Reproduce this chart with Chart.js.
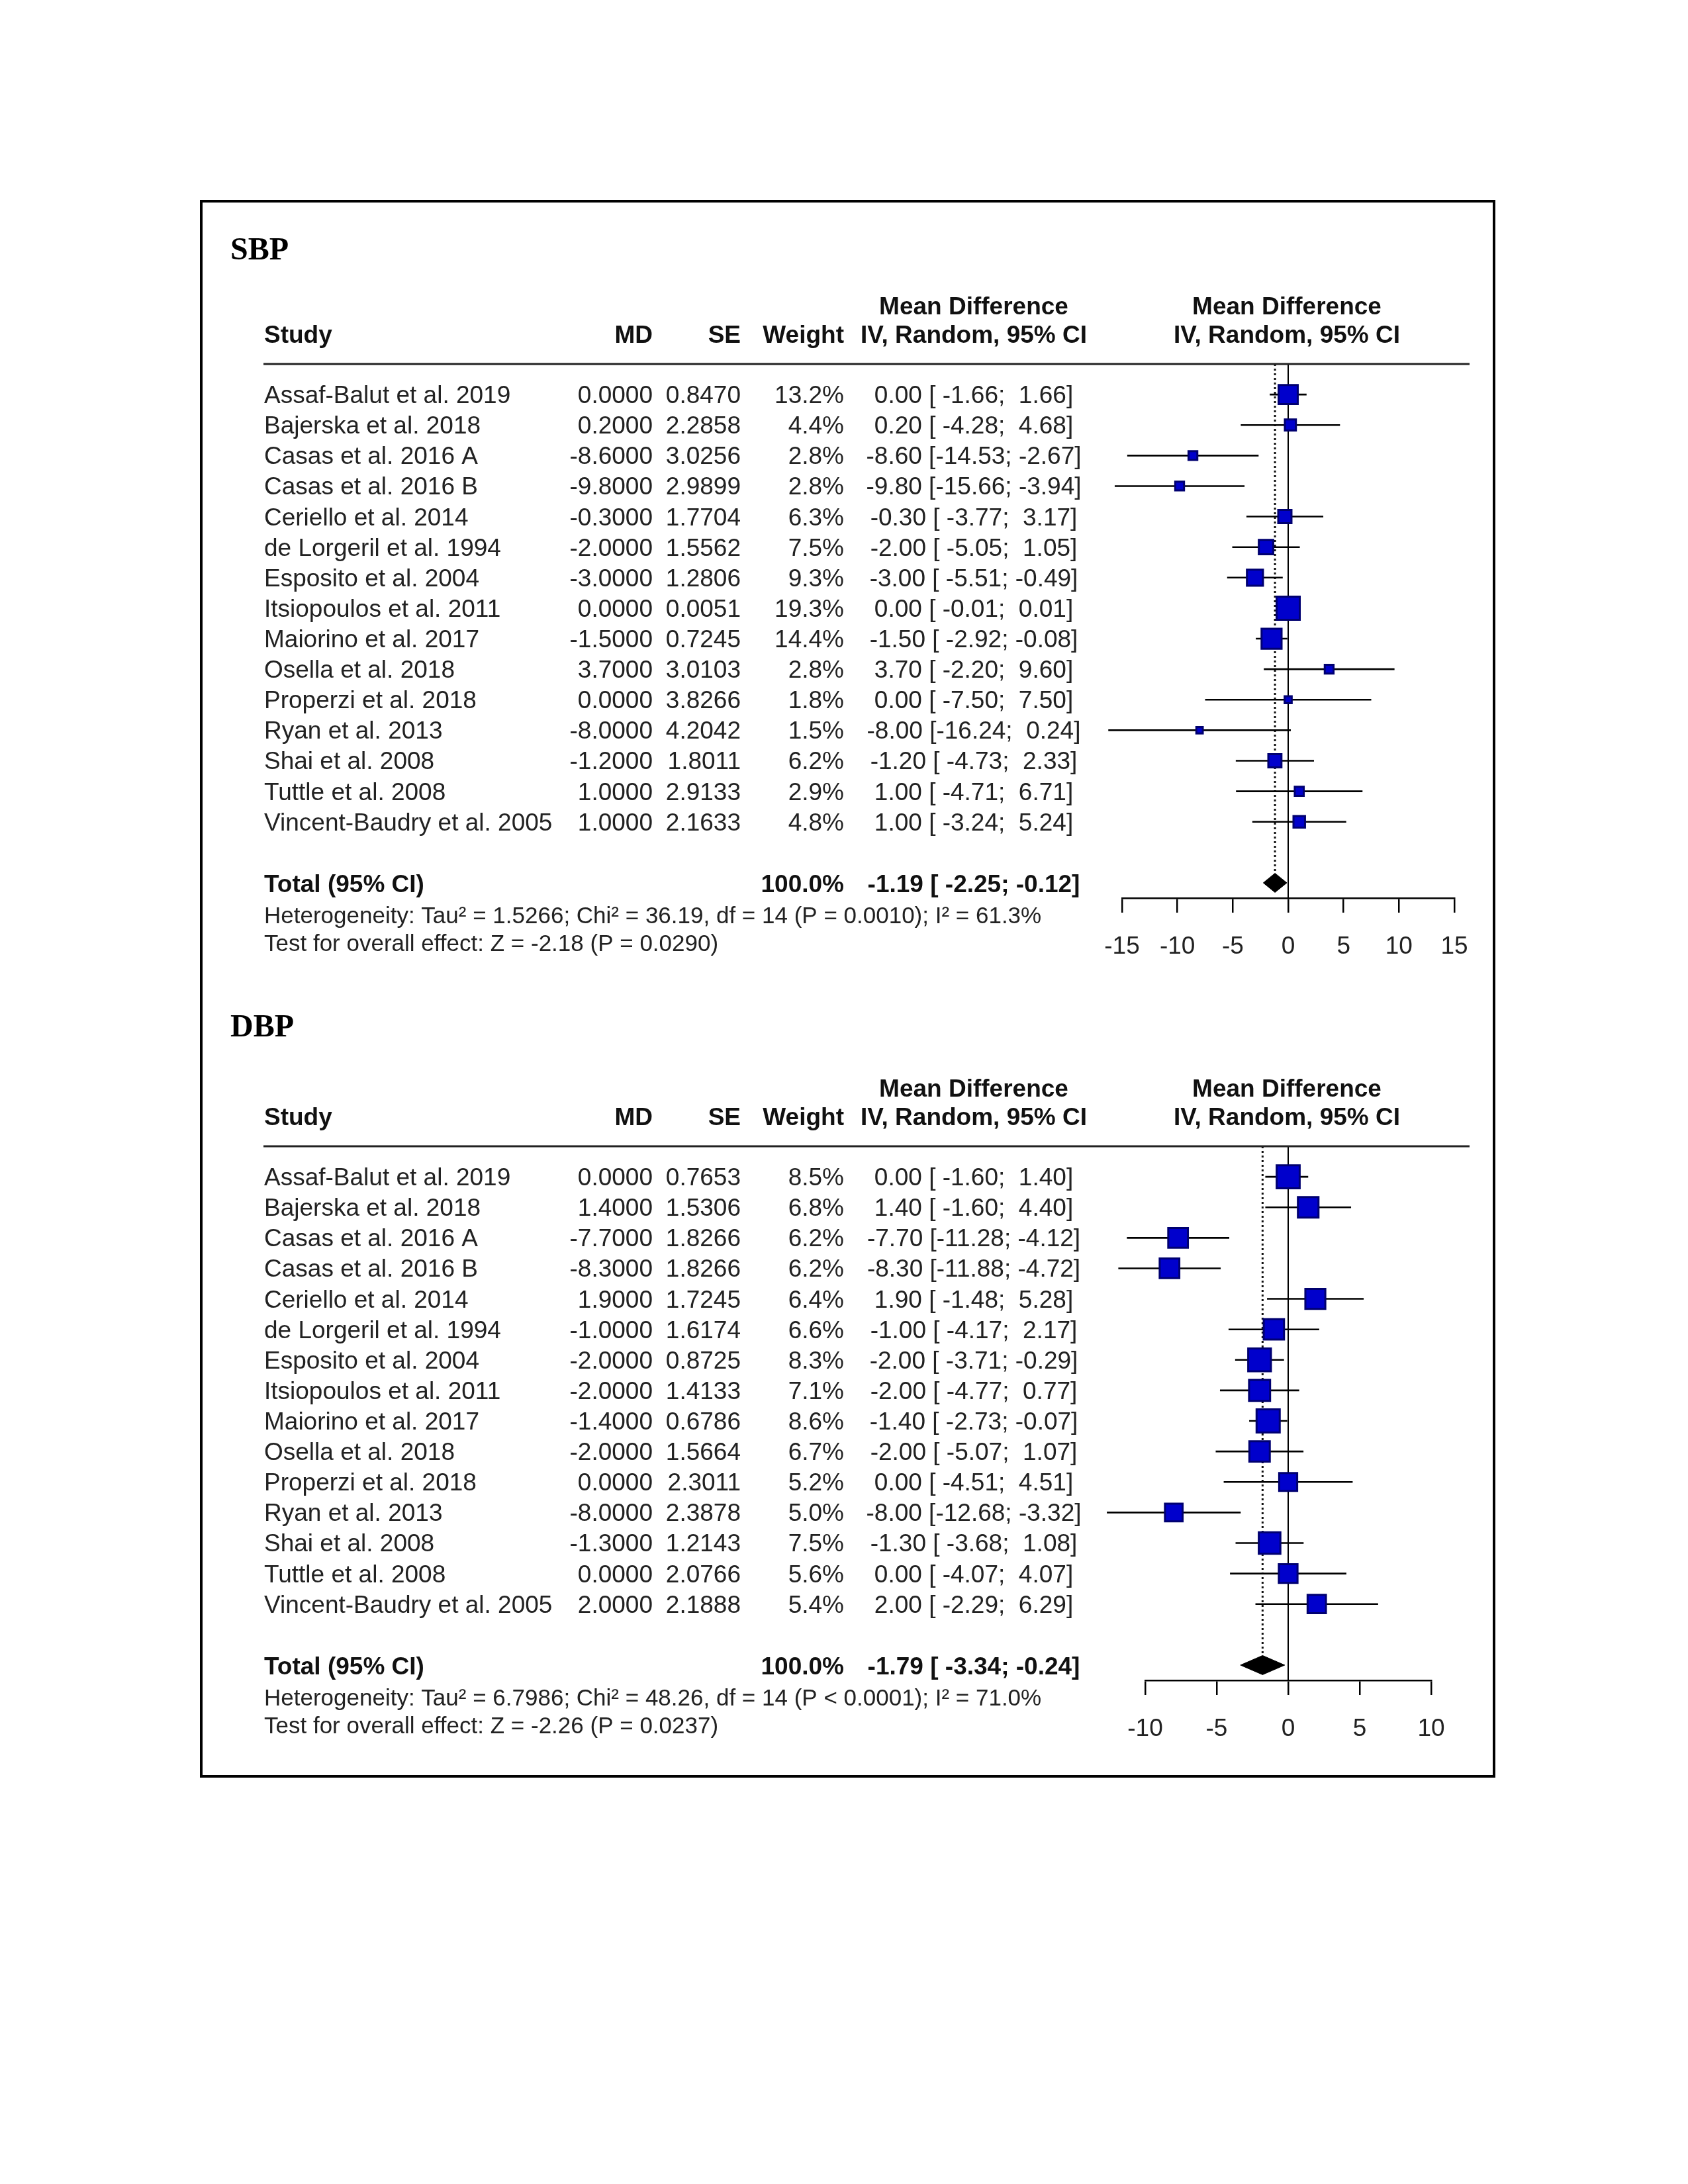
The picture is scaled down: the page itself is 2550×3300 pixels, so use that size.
<!DOCTYPE html>
<html><head><meta charset="utf-8">
<script src="https://cdn.jsdelivr.net/npm/chart.js@4.4.1/dist/chart.umd.min.js"></script>
<style>
html,body{margin:0;padding:0;background:#fff;}
body{width:2550px;height:3300px;position:relative;overflow:hidden;}
#frame{position:absolute;left:302px;top:302px;width:1957px;height:2384px;border:4px solid #000;box-sizing:border-box;}
canvas{position:absolute;left:0;width:2550px;height:1180px;}
#c1{top:300px}
#c2{top:1482px}
</style></head><body>
<div id="frame"></div>
<canvas id="c1" width="2550" height="1180"></canvas>
<canvas id="c2" width="2550" height="1180"></canvas>
<script>
// ---------- data ----------
const studies = ["Assaf-Balut et al. 2019","Bajerska et al. 2018","Casas et al. 2016 A","Casas et al. 2016 B","Ceriello et al. 2014","de Lorgeril et al. 1994","Esposito et al. 2004","Itsiopoulos et al. 2011","Maiorino et al. 2017","Osella et al. 2018","Properzi et al. 2018","Ryan et al. 2013","Shai et al. 2008","Tuttle et al. 2008","Vincent-Baudry et al. 2005"];

const sbpMD = [0.0,0.2,-8.6,-9.8,-0.3,-2.0,-3.0,0.0,-1.5,3.7,0.0,-8.0,-1.2,1.0,1.0];
const sbpSE = [0.8470,2.2858,3.0256,2.9899,1.7704,1.5562,1.2806,0.0051,0.7245,3.0103,3.8266,4.2042,1.8011,2.9133,2.1633];
const sbpWeight = [13.2,4.4,2.8,2.8,6.3,7.5,9.3,19.3,14.4,2.8,1.8,1.5,6.2,2.9,4.8];
const sbpLower = [-1.66,-4.28,-14.53,-15.66,-3.77,-5.05,-5.51,-0.01,-2.92,-2.20,-7.50,-16.24,-4.73,-4.71,-3.24];
const sbpUpper = [1.66,4.68,-2.67,-3.94,3.17,1.05,-0.49,0.01,-0.08,9.60,7.50,0.24,2.33,6.71,5.24];
const sbpTotal = [-1.19,-2.25,-0.12];   // estimate, lower, upper
const sbpTicks = [-15,-10,-5,0,5,10,15];
const sbpHet = "Heterogeneity: Tau\u00B2 = 1.5266; Chi\u00B2 = 36.19, df = 14 (P = 0.0010); I\u00B2 = 61.3%";
const sbpTest = "Test for overall effect: Z = -2.18 (P = 0.0290)";

const dbpMD = [0.0,1.4,-7.7,-8.3,1.9,-1.0,-2.0,-2.0,-1.4,-2.0,0.0,-8.0,-1.3,0.0,2.0];
const dbpSE = [0.7653,1.5306,1.8266,1.8266,1.7245,1.6174,0.8725,1.4133,0.6786,1.5664,2.3011,2.3878,1.2143,2.0766,2.1888];
const dbpWeight = [8.5,6.8,6.2,6.2,6.4,6.6,8.3,7.1,8.6,6.7,5.2,5.0,7.5,5.6,5.4];
const dbpLower = [-1.60,-1.60,-11.28,-11.88,-1.48,-4.17,-3.71,-4.77,-2.73,-5.07,-4.51,-12.68,-3.68,-4.07,-2.29];
const dbpUpper = [1.40,4.40,-4.12,-4.72,5.28,2.17,-0.29,0.77,-0.07,1.07,4.51,-3.32,1.08,4.07,6.29];
const dbpTotal = [-1.79,-3.34,-0.24];
const dbpTicks = [-10,-5,0,5,10];
const dbpHet = "Heterogeneity: Tau\u00B2 = 6.7986; Chi\u00B2 = 48.26, df = 14 (P < 0.0001); I\u00B2 = 71.0%";
const dbpTest = "Test for overall effect: Z = -2.26 (P = 0.0237)";

// ---------- helpers ----------
Chart.defaults.font.family = "'Liberation Sans', Arial, sans-serif";
const SANS = "'Liberation Sans', Arial, sans-serif";
function f2(v){ return (Math.abs(v) < 0.005 ? 0 : v).toFixed(2); }
function pad(s,n){ while(s.length<n) s=' '+s; return s; }
function ciStr(e,l,h){ return f2(e)+' ['+pad(f2(l),6)+';'+pad(f2(h),6)+']'; }

function makeChart(id, P){
  const n = studies.length;
  const tRow = n + 1;          // total row index
  const dh = 0.314;            // diamond half height (rows)
  const wmax = Math.max.apply(null, P.weight);
  const datasets = [];
  // squares
  datasets.push({
    type:'scatter', order:1, clip:false,
    data: P.md.map((v,i)=>({x:v, y:i})),
    pointStyle:'rect',
    pointRadius: P.weight.map(w => 35*Math.sqrt(w/wmax)/Math.SQRT2),
    backgroundColor:'#0000cc', borderColor:'#000070', borderWidth:3
  });
  // diamond (upper & lower halves)
  const e = P.total[0], lo = P.total[1], hi = P.total[2];
  [-dh, dh].forEach(d => {
    datasets.push({
      type:'scatter', order:2, showLine:true, pointRadius:0, borderWidth:1,
      borderColor:'#000', backgroundColor:'#000', fill:{value:tRow},
      data:[{x:lo,y:tRow},{x:e,y:tRow+d},{x:hi,y:tRow}]
    });
  });
  // CI lines
  P.lower.forEach((l,i) => {
    datasets.push({
      type:'scatter', order:3, showLine:true, pointRadius:0, clip:false,
      borderColor:'#000', borderWidth:2.6,
      data:[{x:l,y:i},{x:P.upper[i],y:i}]
    });
  });
  // pooled dotted line
  datasets.push({
    type:'scatter', order:4, showLine:true, pointRadius:0, clip:false,
    borderColor:'#111', borderWidth:3, borderDash:[3,4],
    data:[{x:e,y:-1},{x:e,y:tRow-dh}]
  });
  // zero line
  datasets.push({
    type:'scatter', order:5, showLine:true, pointRadius:0, clip:false,
    borderColor:'#000', borderWidth:2,
    data:[{x:0,y:-1},{x:0,y:tRow+0.5}]
  });

  const tablePlugin = {
    id:'table'+id,
    afterDraw(chart){
      const ctx = chart.ctx, ys = chart.scales.y, xs = chart.scales.x, ca = chart.chartArea;
      const row = i => ys.getPixelForValue(i);
      ctx.save();
      // title
      ctx.fillStyle = '#000';
      ctx.textBaseline = 'alphabetic';
      ctx.textAlign = 'left';
      ctx.font = "bold 48px 'Liberation Serif', 'Times New Roman', serif";
      ctx.fillText(P.title, 348, P.titleY);
      // header
      const h1 = ca.top - 75, h2 = ca.top - 32;
      const fx = xs.getPixelForValue(0) - 2;
      ctx.font = "bold 37px " + SANS;
      ctx.fillStyle = '#111';
      ctx.textAlign = 'left';  ctx.fillText('Study', 399, h2);
      ctx.textAlign = 'right'; ctx.fillText('MD', 986, h2); ctx.fillText('SE', 1119, h2); ctx.fillText('Weight', 1275, h2);
      ctx.textAlign = 'center';
      ctx.fillText('Mean Difference', 1471, h1); ctx.fillText('IV, Random, 95% CI', 1471, h2);
      ctx.fillText('Mean Difference', fx, h1); ctx.fillText('IV, Random, 95% CI', fx, h2);
      // header rule
      ctx.strokeStyle = '#222'; ctx.lineWidth = 3;
      ctx.beginPath(); ctx.moveTo(398, ca.top); ctx.lineTo(2220, ca.top); ctx.stroke();
      // rows
      ctx.font = "37px " + SANS;
      ctx.fillStyle = '#222';
      for (let i=0;i<n;i++){
        const y = row(i) + 13;
        ctx.textAlign = 'left';  ctx.fillText(studies[i], 399, y);
        ctx.textAlign = 'right';
        ctx.fillText(P.md[i].toFixed(4), 986, y);
        ctx.fillText(P.se[i].toFixed(4), 1119, y);
        ctx.fillText(P.weight[i].toFixed(1)+'%', 1275, y);
        ctx.textAlign = 'center';
        ctx.fillText(ciStr(P.md[i], P.lower[i], P.upper[i]), 1471, y);
      }
      // total
      ctx.font = "bold 37px " + SANS;
      ctx.fillStyle = '#111';
      const ty = row(tRow) + 14;
      ctx.textAlign = 'left';  ctx.fillText('Total (95% CI)', 399, ty);
      ctx.textAlign = 'right'; ctx.fillText('100.0%', 1275, ty);
      ctx.textAlign = 'center'; ctx.fillText(ciStr(e, lo, hi), 1471, ty);
      // heterogeneity & test
      ctx.font = "35px " + SANS;
      ctx.fillStyle = '#222';
      ctx.textAlign = 'left';
      ctx.fillText(P.het, 399, row(tRow+1) + 15);
      ctx.fillText(P.test, 399, row(tRow+2) + 11);
      ctx.restore();
    }
  };

  return new Chart(document.getElementById(id), {
    type:'scatter',
    data:{datasets},
    options:{
      responsive:false, animation:false, devicePixelRatio:1, events:[],
      layout:{padding:{left:P.padL, right:P.padR, top:250, bottom:0}},
      plugins:{legend:{display:false}, tooltip:{enabled:false}, title:{display:false}},
      scales:{
        x:{
          type:'linear', position:'bottom', min:P.ticks[0], max:P.ticks[P.ticks.length-1],
          afterBuildTicks: s => { s.ticks = P.ticks.map(v => ({value:v})); },
          afterFit: s => { s.height = 123; },
          ticks:{color:'#222', font:{size:37, family:SANS}, padding:30, maxRotation:0, autoSkip:false},
          grid:{display:true, drawOnChartArea:false, drawTicks:true, tickLength:22, color:'#000', lineWidth:2.5},
          border:{display:true, color:'#000', width:2.5}
        },
        y:{type:'linear', min:-1, max:tRow+0.5, reverse:true, display:false}
      }
    },
    plugins:[tablePlugin]
  });
}

makeChart('c1', {title:'SBP', titleY:92, md:sbpMD, se:sbpSE, weight:sbpWeight, lower:sbpLower, upper:sbpUpper,
  total:sbpTotal, ticks:sbpTicks, het:sbpHet, test:sbpTest, padL:1695, padR:2550-2197});
makeChart('c2', {title:'DBP', titleY:84, md:dbpMD, se:dbpSE, weight:dbpWeight, lower:dbpLower, upper:dbpUpper,
  total:dbpTotal, ticks:dbpTicks, het:dbpHet, test:dbpTest, padL:1730, padR:2550-2162});
</script>
</body></html>
